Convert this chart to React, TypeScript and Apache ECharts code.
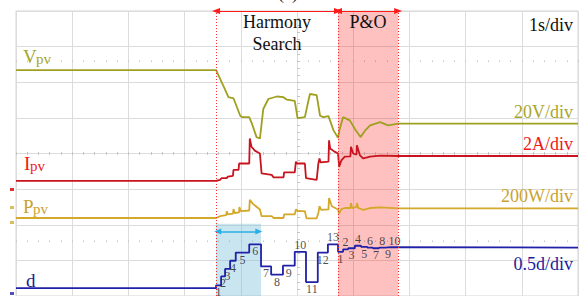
import React, { useEffect, useRef } from "react";
import * as echarts from "echarts";

// time in seconds (1 s/div), values in screen divisions (0 = bottom, 8 = top)
const vpv: [number, number][] = [
  [0, 6.34], [3.56, 6.34], [3.69, 5.9], [3.78, 5.58], [3.87, 5.55], [3.99, 5.06], [4.02, 5.02],
  [4.15, 5.02], [4.2, 4.83], [4.28, 4.46], [4.34, 4.42], [4.4, 5.25], [4.49, 5.53], [4.64, 5.6],
  [4.76, 5.58], [4.82, 5.51], [4.96, 5.48], [5.01, 4.99], [5.14, 5.02], [5.19, 5.39], [5.23, 5.67],
  [5.35, 5.64], [5.41, 5.06], [5.47, 5.02], [5.56, 5.05], [5.65, 4.65], [5.73, 4.44], [5.76, 4.69],
  [5.82, 5.02], [5.94, 4.93], [6.03, 4.69], [6.13, 4.46], [6.21, 4.64], [6.3, 4.79], [6.48, 4.88],
  [6.62, 4.79], [6.8, 4.84], [10, 4.84],
];

const ipv: [number, number][] = [
  [0, 3.23], [3.56, 3.23], [3.63, 3.26], [3.66, 3.31], [3.75, 3.31], [3.77, 3.35], [3.86, 3.37],
  [3.87, 3.54], [3.96, 3.54], [3.97, 3.72], [4.15, 3.72], [4.16, 4.42], [4.19, 4.19], [4.25, 4.08],
  [4.34, 4.0], [4.37, 3.44], [4.55, 3.4], [4.58, 3.33], [4.76, 3.33], [4.77, 3.47], [4.96, 3.47],
  [4.98, 3.77], [5.0, 3.72], [5.14, 3.72], [5.16, 3.31], [5.35, 3.26], [5.38, 3.72], [5.4, 3.86],
  [5.42, 3.75], [5.56, 3.77], [5.57, 4.37], [5.59, 4.14], [5.66, 4.06], [5.73, 4.0], [5.75, 3.63],
  [5.79, 3.81], [5.85, 3.91], [5.95, 3.92], [5.96, 4.19], [6.0, 4.0], [6.06, 3.97], [6.065, 4.23],
  [6.12, 3.95], [6.18, 3.86], [6.3, 3.91], [6.48, 3.94], [6.8, 3.93], [10, 3.93],
];

const ppv: [number, number][] = [
  [0, 2.19], [3.56, 2.19], [3.63, 2.24], [3.74, 2.27], [3.75, 2.38], [3.77, 2.29], [3.86, 2.31],
  [3.87, 2.44], [3.89, 2.33], [3.97, 2.35], [3.975, 2.5], [4.0, 2.38], [4.15, 2.4], [4.16, 2.7],
  [4.22, 2.58], [4.34, 2.43], [4.37, 2.24], [4.55, 2.24], [4.58, 2.19], [4.76, 2.19], [4.77, 2.29],
  [4.96, 2.29], [4.98, 2.43], [5.01, 2.38], [5.14, 2.38], [5.17, 2.18], [5.35, 2.18], [5.38, 2.33],
  [5.4, 2.52], [5.43, 2.42], [5.56, 2.43], [5.57, 2.75], [5.62, 2.52], [5.73, 2.43], [5.75, 2.31],
  [5.79, 2.44], [5.85, 2.47], [5.95, 2.47], [5.96, 2.61], [5.98, 2.47], [6.06, 2.5], [6.065, 2.61],
  [6.09, 2.47], [6.18, 2.42], [6.3, 2.47], [6.48, 2.49], [6.8, 2.46], [10, 2.46],
];

// duty cycle: start time of each level, and the level
const dTimes = [
  0, 3.56, 3.65, 3.72, 3.81, 3.91, 4.15, 4.36, 4.54, 4.75, 4.96, 5.16, 5.37, 5.55,
  5.73, 5.82, 5.91, 6.03, 6.14, 6.25, 6.35, 6.46, 6.57, 6.67,
];
const dLevels = [
  0.22, 0.3, 0.55, 0.76, 0.99, 1.22, 1.45, 0.83, 0.6, 0.85, 1.24, 0.39, 1.22, 1.45,
  1.24, 1.31, 1.34, 1.41, 1.38, 1.36, 1.34, 1.36, 1.37, 1.36,
];
const dStepLabels = [
  "", "1", "2", "3", "4", "5", "6", "7", "8", "9", "10", "11", "12", "13",
  "1", "2", "3", "4", "5", "6", "7", "8", "9", "10",
];
const dLabelSide = [
  "", "b", "b", "b", "b", "b", "b", "b", "b", "b", "t", "b", "b", "t",
  "b", "t", "b", "t", "b", "t", "b", "t", "b", "t",
];

const tEnd = 10;
const hsStart = 3.56;
const poStart = 5.73;
const poEnd = 6.8;
const shadeEnd = 4.36;
const shadeTop = 2.03;
const shadeArrow: [number, number, number] = [3.59, 4.32, 1.81];

const serif = "'Liberation Serif', 'DejaVu Serif', serif";

export default function App() {
  const ref = useRef<HTMLDivElement>(null);
  useEffect(() => {
    if (!ref.current) return;
    const chart = echarts.init(ref.current, undefined, { renderer: "svg" });

    const dData: [number, number][] = [];
    for (let i = 0; i < dTimes.length; i++) {
      const next = i + 1 < dTimes.length ? dTimes[i + 1] : tEnd;
      dData.push([dTimes[i], dLevels[i]]);
      dData.push([next, dLevels[i]]);
    }
    const labelData: any[] = [];
    for (let i = 1; i < dTimes.length; i++) {
      const next = i + 1 < dTimes.length ? dTimes[i + 1] : poEnd;
      labelData.push({
        value: [(dTimes[i] + next) / 2, dLevels[i]],
        name: dStepLabels[i],
        label: { position: dLabelSide[i] === "t" ? "top" : "bottom" },
      });
    }

    const tickAxis = (offset: number, len: number) => ({
      type: "value",
      min: 0,
      max: 10,
      interval: 0.2,
      position: "bottom",
      offset,
      axisLine: { show: false },
      axisTick: { show: true, inside: true, length: len, lineStyle: { color: "#c4c4c4", width: 1 } },
      axisLabel: { show: false },
      splitLine: { show: false },
    });

    const txt = (x: number, y: number, text: string, color: string, size: number, align = "left") => ({
      type: "text",
      x,
      y,
      z: 100,
      style: {
        text,
        fill: color,
        font: `${size}px ${serif}`,
        align,
        verticalAlign: "middle",
      },
    });

    const option: any = {
      animation: false,
      backgroundColor: "#ffffff",
      grid: {
        left: 16,
        top: 11,
        width: 562,
        height: 288,
        show: true,
        borderColor: "#d4d4d4",
        borderWidth: 1,
      },
      xAxis: [
        {
          type: "value",
          min: 0,
          max: 10,
          interval: 1,
          axisLine: { show: false },
          axisTick: { show: false },
          axisLabel: { show: false },
          splitLine: { show: true, lineStyle: { color: "#dcdcdc", width: 1 } },
        },
        tickAxis(-144, 3),
        tickAxis(-234, 1.5),
        tickAxis(-54, 1.5),
      ],
      yAxis: [
        {
          type: "value",
          min: 0,
          max: 8,
          interval: 1,
          axisLine: { show: false },
          axisTick: { show: false },
          axisLabel: { show: false },
          splitLine: { show: true, lineStyle: { color: "#dcdcdc", width: 1 } },
        },
        {
          type: "value",
          min: 0,
          max: 8,
          interval: 0.2,
          position: "left",
          offset: -281,
          axisLine: { show: false },
          axisTick: { show: true, inside: true, length: 3, lineStyle: { color: "#c4c4c4" } },
          axisLabel: { show: false },
          splitLine: { show: false },
        },
      ],
      series: [
        {
          type: "line",
          name: "shade",
          data: [],
          z: 1,
          silent: true,
          markArea: {
            silent: true,
            itemStyle: { color: "rgba(120,190,215,0.4)" },
            data: [[{ coord: [hsStart, 0] }, { coord: [shadeEnd, shadeTop] }]],
          },
          markLine: {
            silent: true,
            symbol: ["triangle", "triangle"],
            symbolSize: [6, 7],
            label: { show: false },
            lineStyle: { color: "#29aee6", width: 1.5, type: "solid" },
            data: [[{ coord: [shadeArrow[0], shadeArrow[2]] }, { coord: [shadeArrow[1], shadeArrow[2]] }]],
          },
        },
        {
          type: "line",
          name: "Vpv",
          data: vpv,
          showSymbol: false,
          z: 3,
          lineStyle: { color: "#a0a020", width: 1.8 },
        },
        {
          type: "line",
          name: "Ipv",
          data: ipv,
          showSymbol: false,
          z: 3,
          lineStyle: { color: "#c8141e", width: 1.8 },
        },
        {
          type: "line",
          name: "Ppv",
          data: ppv,
          showSymbol: false,
          z: 3,
          lineStyle: { color: "#d4a82a", width: 1.8 },
        },
        {
          type: "line",
          name: "d",
          data: dData,
          showSymbol: false,
          z: 3,
          lineStyle: { color: "#2020a8", width: 1.8 },
        },
        {
          type: "scatter",
          name: "steps",
          data: labelData,
          symbolSize: 0,
          z: 8,
          silent: true,
          label: {
            show: true,
            formatter: (p: any) => p.name,
            color: "#1e1e1e",
            fontSize: 12,
            fontFamily: serif,
            distance: 1,
          },
        },
        {
          type: "line",
          name: "overlay",
          data: [],
          z: 6,
          silent: true,
          markArea: {
            silent: true,
            itemStyle: { color: "rgba(255,30,30,0.28)" },
            data: [[{ xAxis: poStart }, { xAxis: poEnd }]],
          },
          markLine: {
            silent: true,
            symbol: "none",
            label: { show: false },
            lineStyle: { color: "#ff2a2a", width: 1, type: [1, 2] },
            data: [{ xAxis: hsStart }, { xAxis: poStart }, { xAxis: poEnd }],
          },
        },
        {
          type: "line",
          name: "arrows",
          data: [],
          z: 7,
          silent: true,
          markLine: {
            silent: true,
            symbol: ["triangle", "triangle"],
            symbolSize: [6, 8],
            label: { show: false },
            lineStyle: { color: "#ff1a1a", width: 1, type: "solid" },
            data: [
              [{ coord: [hsStart, 8] }, { coord: [poStart, 8] }],
              [{ coord: [poStart, 8] }, { coord: [poEnd, 8] }],
            ],
          },
        },
      ],
      graphic: [
        txt(288, -7, "(a)", "#222", 18, "center"),
        txt(277, 22, "Harmony", "#111", 18, "center"),
        txt(277, 44, "Search", "#111", 18, "center"),
        txt(368, 22, "P&O", "#111", 18, "center"),
        txt(573, 25, "1s/div", "#111", 18, "right"),
        txt(573, 112, "20V/div", "#a8a62e", 18, "right"),
        txt(573, 144, "2A/div", "#f01818", 18, "right"),
        txt(573, 196, "200W/div", "#c9a232", 18, "right"),
        txt(573, 264, "0.5d/div", "#1c1c9c", 18, "right"),
        txt(23, 56.5, "V", "#a6a628", 19),
        txt(36, 58.5, "pv", "#a6a628", 15),
        txt(24, 163.5, "I", "#f01818", 19),
        txt(30, 166, "pv", "#f01818", 15),
        txt(23, 206.5, "P", "#c9a232", 19),
        txt(33, 209, "pv", "#c9a232", 15),
        txt(26, 280.5, "d", "#1c1c9c", 19),
        { type: "rect", shape: { x: 10, y: 188, width: 4, height: 3 }, style: { fill: "#e03030" } },
        { type: "rect", shape: { x: 10, y: 206, width: 4, height: 3 }, style: { fill: "#d8c060" } },
        { type: "rect", shape: { x: 10, y: 221, width: 4, height: 3 }, style: { fill: "#d8c060" } },
        { type: "rect", shape: { x: 10, y: 292, width: 4, height: 3 }, style: { fill: "#5050c0" } },
      ],
    };
    chart.setOption(option);
    return () => chart.dispose();
  }, []);
  return (
    <div
      ref={ref}
      style={{ position: "fixed", left: 0, top: 0, width: 580, height: 296, background: "#fff" }}
    />
  );
}
